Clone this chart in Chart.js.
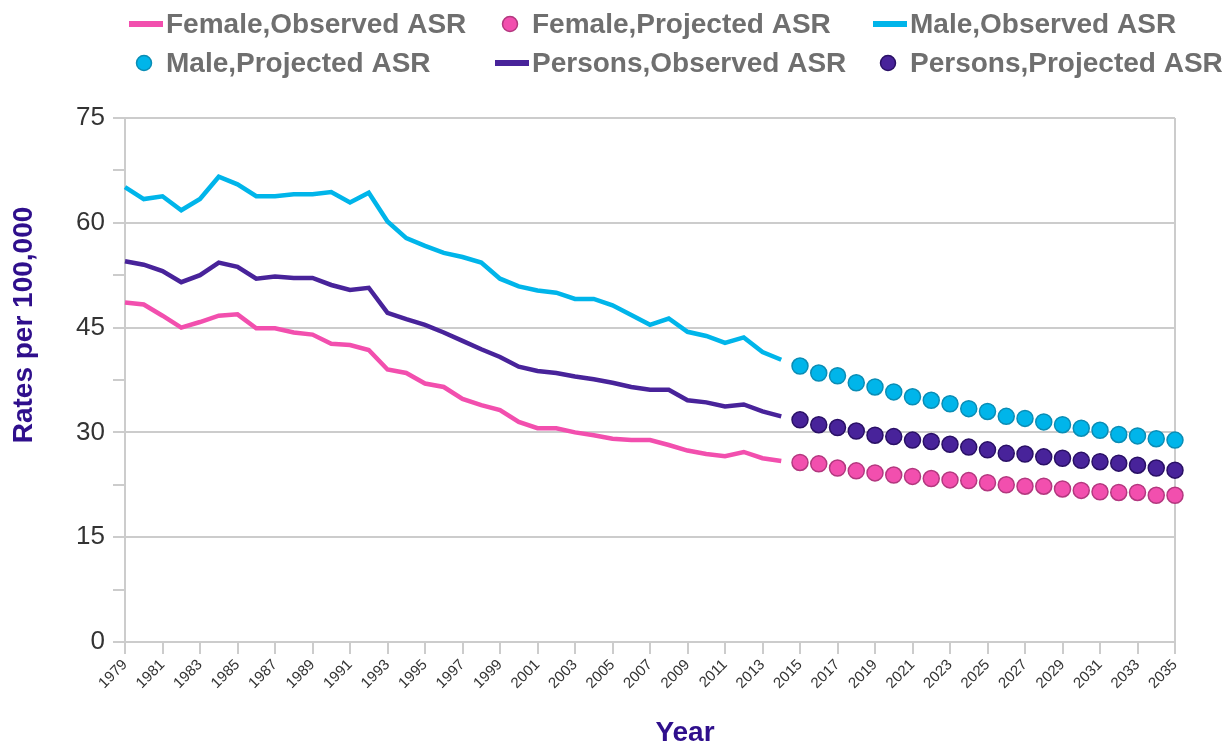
<!DOCTYPE html>
<html>
<head>
<meta charset="utf-8">
<title>Rates per 100,000 by year</title>
<script src="https://cdn.jsdelivr.net/npm/chart.js@4.4.3/dist/chart.umd.min.js"></script>
<style>
  html, body { margin: 0; padding: 0; background: #fff; }
  #wrap { width: 1226px; height: 746px; }
</style>
</head>
<body>
<div id="wrap"><canvas id="asrChart" width="1226" height="746"></canvas></div>
<script>
// Observed years 1979-2014, projected years 2015-2035
const years = [];
for (let y = 1979; y <= 2035; y++) years.push(String(y));

const femaleObserved = [48.6, 48.3, 46.7, 45.0, 45.8, 46.7, 46.9, 44.9, 44.9, 44.3,
  44.0, 42.7, 42.5, 41.8, 39.0, 38.5, 37.0, 36.5, 34.8, 33.9,
  33.2, 31.5, 30.6, 30.6, 30.0, 29.6, 29.1, 28.9, 28.9, 28.2,
  27.4, 26.9, 26.6, 27.2, 26.3, 25.9];
const femaleProjected = [25.7, 25.5, 24.9, 24.5, 24.2, 23.9, 23.7, 23.4, 23.2, 23.1,
  22.8, 22.5, 22.3, 22.3, 21.9, 21.7, 21.5, 21.4, 21.4, 21.0, 21.0];

const maleObserved = [65.1, 63.4, 63.8, 61.8, 63.4, 66.6, 65.5, 63.8, 63.8, 64.1,
  64.1, 64.4, 62.9, 64.3, 60.2, 57.8, 56.7, 55.7, 55.1, 54.3,
  52.0, 50.9, 50.3, 50.0, 49.1, 49.1, 48.2, 46.8, 45.4, 46.3,
  44.4, 43.8, 42.8, 43.6, 41.5, 40.4];
const maleProjected = [39.5, 38.5, 38.1, 37.1, 36.5, 35.8, 35.1, 34.6, 34.1, 33.4,
  33.0, 32.3, 32.0, 31.5, 31.1, 30.6, 30.3, 29.7, 29.5, 29.1, 28.9];

const personsObserved = [54.5, 54.0, 53.1, 51.5, 52.5, 54.3, 53.7, 52.0, 52.3, 52.1,
  52.1, 51.1, 50.4, 50.7, 47.1, 46.2, 45.4, 44.3, 43.1, 41.9,
  40.8, 39.4, 38.8, 38.5, 38.0, 37.6, 37.1, 36.5, 36.1, 36.1,
  34.6, 34.3, 33.7, 34.0, 33.0, 32.3];
const personsProjected = [31.8, 31.1, 30.7, 30.2, 29.6, 29.4, 28.9, 28.7, 28.3, 27.9,
  27.5, 27.0, 26.9, 26.5, 26.3, 26.0, 25.8, 25.6, 25.3, 24.9, 24.6];

const yTicks = [0, 15, 30, 45, 60, 75];

// colours
const PINK = '#f24fae', PINK_EDGE = '#b3387f';
const CYAN = '#00b5ea', CYAN_EDGE = '#0a8db5';
const PURPLE = '#48239a', PURPLE_EDGE = '#2a1066';
const GRID = '#cccccc';
const TITLE_COL = '#2f0f8c';

// pad observed series on the right, projected on the left
function observed(arr) { return arr.concat(years.slice(arr.length).map(() => null)); }
function projected(arr) { return years.slice(0, years.length - arr.length).map(() => null).concat(arr); }

function lineSet(label, data, col) {
  return { label, data: observed(data), borderColor: col, backgroundColor: col,
    borderWidth: 4.5, pointRadius: 0, tension: 0, kind: 'line' };
}
function dotSet(label, data, col, edge) {
  return { label, data: projected(data), showLine: false, backgroundColor: col,
    borderColor: edge, borderWidth: 1.5, pointRadius: 8, pointHoverRadius: 8, kind: 'dot' };
}

// legend in a 3-column grid plus the two axis titles
const decorations = {
  id: 'decorations',
  afterDraw(chart) {
    const ctx = chart.ctx;
    const textX = [166, 532, 910];
    const rowY = [24, 63];
    ctx.save();
    ctx.font = 'bold 28px "Liberation Sans", Arial, sans-serif';
    ctx.textBaseline = 'middle';
    ctx.textAlign = 'left';
    chart.data.datasets.forEach((ds, i) => {
      const tx = textX[i % 3], ty = rowY[Math.floor(i / 3)];
      if (ds.kind === 'line') {
        ctx.fillStyle = ds.borderColor;
        ctx.fillRect(tx - 37, ty - 3, 34, 6);
      } else {
        ctx.beginPath();
        ctx.arc(tx - 22, ty, 7.5, 0, Math.PI * 2);
        ctx.fillStyle = ds.backgroundColor;
        ctx.fill();
        ctx.lineWidth = 1.5;
        ctx.strokeStyle = ds.borderColor;
        ctx.stroke();
      }
      ctx.fillStyle = '#6f6f6f';
      ctx.fillText(ds.label, tx, ty + 1);
    });

    ctx.fillStyle = TITLE_COL;
    ctx.textAlign = 'center';
    ctx.fillText('Year', 685, 733);
    ctx.translate(24, 325);
    ctx.rotate(-Math.PI / 2);
    ctx.fillText('Rates per 100,000', 0, 0);
    ctx.restore();
  }
};

const isMajor = v => yTicks.some(t => Math.abs(t - v) < 1e-6);

new Chart(document.getElementById('asrChart'), {
  type: 'line',
  data: {
    labels: years,
    datasets: [
      lineSet('Female,Observed ASR', femaleObserved, PINK),
      dotSet('Female,Projected ASR', femaleProjected, PINK, PINK_EDGE),
      lineSet('Male,Observed ASR', maleObserved, CYAN),
      dotSet('Male,Projected ASR', maleProjected, CYAN, CYAN_EDGE),
      lineSet('Persons,Observed ASR', personsObserved, PURPLE),
      dotSet('Persons,Projected ASR', personsProjected, PURPLE, PURPLE_EDGE)
    ]
  },
  options: {
    responsive: false,
    animation: false,
    layout: { padding: { top: 118, right: 51, bottom: 0, left: 0 } },
    plugins: { legend: { display: false }, tooltip: { enabled: false } },
    scales: {
      x: {
        type: 'category',
        afterFit(s) { s.height = 104; },
        ticks: {
          autoSkip: false, maxRotation: 45, minRotation: 45, padding: 2,
          color: '#333', font: { size: 15 },
          callback: (v, i) => (i % 2 === 0 ? years[i] : '')
        },
        grid: {
          lineWidth: 2, tickLength: 12,
          color: c => (c.index === years.length - 1 ? GRID : 'rgba(0,0,0,0)'),
          tickColor: c => (c.index % 2 === 0 ? GRID : 'rgba(0,0,0,0)')
        },
        border: { color: GRID, width: 2 }
      },
      y: {
        min: 0, max: 75,
        afterFit(s) { s.width = 125; },
        ticks: {
          stepSize: 7.5, padding: 8, color: '#333', font: { size: 26 },
          callback: v => (isMajor(v) ? Math.round(v) : '')
        },
        grid: {
          lineWidth: 2, tickLength: 12, tickColor: GRID,
          color: c => (isMajor(c.tick.value) ? GRID : 'rgba(0,0,0,0)')
        },
        border: { color: GRID, width: 2 }
      }
    }
  },
  plugins: [decorations]
});
</script>
</body>
</html>
